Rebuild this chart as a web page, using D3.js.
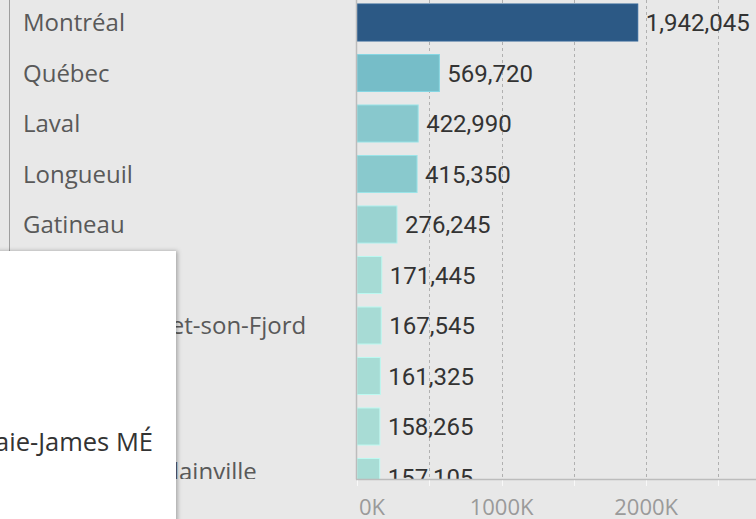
<!doctype html>
<html>
<head>
<meta charset="utf-8"/>
<script src="https://cdn.jsdelivr.net/npm/d3@7/dist/d3.min.js"></script>
<style>
body{margin:0;background:#e8e8e8;}
</style>
</head>
<body>
<script>
var width=756, height=519;

var cities=["Montréal","Québec","Laval","Longueuil","Gatineau","Sherbrooke","Le Saguenay-et-son-Fjord","Lévis","Les Moulins","Thérèse-De Blainville"];
var populations=[1942045,569720,422990,415350,276245,171445,167545,161325,158265,157105];
var gridValues=[0,500000,1000000,1500000,2000000,2500000];
var axisValues=[0,1000000,2000000];
var axisLabels=["0K","1000K","2000K"];
var popupText="Eeyou Istchee Baie-James MÉ";

var axisY=479;

var svg=d3.select("body").append("svg").attr("width",width).attr("height",height)
	.style("display","block").style("background","#e8e8e8");

var defs=svg.append("defs");
defs.append("clipPath").attr("id","pane").append("rect")
	.attr("x",0).attr("y",0).attr("width",width).attr("height",axisY);
var f=defs.append("filter").attr("id","shadow").attr("x","-10%").attr("y","-10%").attr("width","130%").attr("height","130%");
f.append("feDropShadow").attr("dx",1.5).attr("dy",0).attr("stdDeviation",2)
	.attr("flood-color","#000").attr("flood-opacity",0.3);

var x=d3.scaleLinear().domain([0,2760000]).range([357,756]);
var y=d3.scaleBand().domain(cities).range([-2.75,502.25]).paddingInner(0.267).paddingOuter(0.1335);
var color=d3.scaleLinear().domain([157105,569720,1942045]).range(["#a8dcd5","#76bdc8","#2c5985"]);

var pane=svg.append("g").attr("clip-path","url(#pane)");

// dashed gridlines
pane.selectAll("line.grid").data(gridValues.slice(1)).enter().append("line")
	.attr("class","grid")
	.attr("x1",function(d){return Math.round(x(d))+0.5;})
	.attr("x2",function(d){return Math.round(x(d))+0.5;})
	.attr("y1",0).attr("y2",axisY)
	.attr("stroke","#b0b0b0").attr("stroke-dasharray","3,3");

pane.selectAll("rect.bar").data(populations).enter().append("rect")
	.attr("class","bar")
	.attr("x",x(0))
	.attr("y",function(d,i){return y(cities[i]);})
	.attr("width",function(d){return x(d)-x(0);})
	.attr("height",y.bandwidth())
	.attr("fill",function(d){return color(d);})
	.attr("stroke",function(d){return d3.color(color(d)).brighter(0.35);})
	.attr("stroke-width",1);

pane.selectAll("text.val").data(populations).enter().append("text")
	.attr("class","val")
	.attr("x",function(d){return x(d)+8;})
	.attr("y",function(d,i){return y(cities[i])+y.bandwidth()/2;})
	.attr("dy","0.36em")
	.style("font-family","Roboto")
	.style("font-size","24px")
	.style("fill","#333")
	.text(function(d){return d3.format(",")(d);});

// row labels; the last one is pushed up to stay inside the pane
pane.selectAll("text.cat").data(cities).enter().append("text")
	.attr("class","cat")
	.attr("x",23)
	.attr("y",function(d){return Math.min(y(d)+y.bandwidth()/2,axisY-8);})
	.attr("dy","0.36em")
	.style("font-family","'Open Sans'")
	.style("font-size","24px")
	.style("fill","#595959")
	.text(function(d){return d;});

// axis lines
svg.append("line").attr("x1",356.5).attr("x2",356.5).attr("y1",0).attr("y2",axisY+0.5)
	.attr("stroke","#bcbcbc").attr("stroke-width",1.5);
svg.append("line").attr("x1",356).attr("x2",width).attr("y1",axisY+0.5).attr("y2",axisY+0.5)
	.attr("stroke","#bcbcbc").attr("stroke-width",1.5);
svg.append("line").attr("x1",9.5).attr("x2",9.5).attr("y1",0).attr("y2",252)
	.attr("stroke","#9e9e9e");

svg.selectAll("line.tick").data(gridValues).enter().append("line")
	.attr("class","tick")
	.attr("x1",function(d){return Math.round(x(d))+0.5;})
	.attr("x2",function(d){return Math.round(x(d))+0.5;})
	.attr("y1",axisY+1.5).attr("y2",axisY+7)
	.attr("stroke","#f8f8f8");

svg.selectAll("text.axis").data(axisValues).enter().append("text")
	.attr("class","axis")
	.attr("x",function(d,i){return i==0?x(d)+2:x(d);})
	.attr("y",515)
	.attr("text-anchor",function(d,i){return i==0?"start":"middle";})
	.style("font-family","'Open Sans'")
	.style("font-size","22px")
	.style("fill","#9a9a9a")
	.text(function(d,i){return axisLabels[i];});

// popup box over the left part
var pop=svg.append("g");
pop.append("rect").attr("x",-10).attr("y",251).attr("width",186).attr("height",300)
	.attr("fill","#fff").attr("filter","url(#shadow)");
pop.append("text").attr("x",153).attr("y",451).attr("text-anchor","end")
	.style("font-family","'Open Sans'")
	.style("font-size","25.5px")
	.style("fill","#333")
	.text(popupText);
</script>
</body>
</html>
